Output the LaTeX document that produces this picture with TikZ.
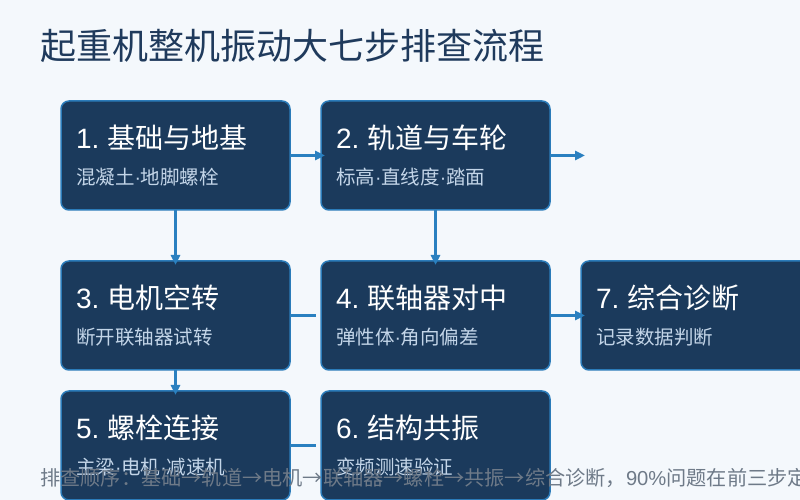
\documentclass[tikz,border=0pt]{standalone}
\usepackage{fontspec}
\setmainfont{Noto Sans CJK SC}
\newfontfamily\latinfont{Liberation Sans}
\usetikzlibrary{positioning, arrows.meta}
\definecolor{pagebg}{HTML}{F4F8FC}
\definecolor{headink}{HTML}{1F3A5C}
\definecolor{boxfill}{HTML}{1B3A5C}
\definecolor{boxedge}{HTML}{2B7BB9}
\definecolor{flowline}{HTML}{2A80C0}
\definecolor{noteink}{HTML}{C3D5E8}
\definecolor{footink}{HTML}{6E7A88}
\newcommand{\steptitle}[2]{{\fontsize{28}{30}\selectfont\color{white}{\latinfont #1}\hspace{8pt}#2}}
\newcommand{\stepnote}[1]{{\fontsize{19.5}{22}\selectfont\color{noteink} #1}}
\newcommand{\mdot}{{\latinfont ·}}
\newcommand{\colgap}{31pt}
\newcommand{\rowgap}{51pt}
\newcommand{\lowgap}{21pt}

\begin{document}
\begin{tikzpicture}[
    x=1pt, y=1pt,
    stepbox/.style={
        rectangle,
        draw=boxedge,
        fill=boxfill,
        line width=1.5pt,
        rounded corners=8pt,
        align=left,
        text width=199pt,
        minimum width=229pt,
        minimum height=109pt,
        inner xsep=15pt,
        inner ysep=0pt,
        outer sep=0pt
    },
    flow/.style={
        line width=2.5pt,
        draw=flowline,
        -{Triangle[length=10pt,width=9pt]},
        shorten >=-4pt
    },
    link/.style={
        line width=2.5pt,
        draw=flowline
    }
]

    % --- page and heading ---
    \fill[pagebg] (0,0) rectangle (800,500);
    \useasboundingbox (0,0) rectangle (800,500);
    \node[anchor=base west, inner sep=0pt, text=headink, font=\fontsize{36}{40}\selectfont] (heading) at (40,440) {起重机整机振动大七步排查流程};

    % --- row 1 ---
    \node[stepbox, anchor=north west] (base) at (61,399) {%
        \steptitle{1.}{基础与地基}\\[16pt]
        \stepnote{混凝土\mdot 地脚螺栓}
    };
    \node[stepbox, right=\colgap of base] (track) {%
        \steptitle{2.}{轨道与车轮}\\[16pt]
        \stepnote{标高\mdot 直线度\mdot 踏面}
    };

    % --- row 2 ---
    \node[stepbox, below=\rowgap of base] (motor) {%
        \steptitle{3.}{电机空转}\\[16pt]
        \stepnote{断开联轴器试转}
    };
    \node[stepbox, right=\colgap of motor] (coupling) {%
        \steptitle{4.}{联轴器对中}\\[16pt]
        \stepnote{弹性体\mdot 角向偏差}
    };
    \node[stepbox, right=\colgap of coupling] (verdict) {%
        \steptitle{7.}{综合诊断}\\[16pt]
        \stepnote{记录数据判断}
    };

    % --- row 3 ---
    \node[stepbox, below=\lowgap of motor] (bolts) {%
        \steptitle{5.}{螺栓连接}\\[16pt]
        \stepnote{主梁\mdot 电机\mdot 减速机}
    };
    \node[stepbox, right=\colgap of bolts] (resonance) {%
        \steptitle{6.}{结构共振}\\[16pt]
        \stepnote{变频测速验证}
    };

    % --- connectors ---
    \coordinate[right=31pt of track.east] (trackout);
    \draw[flow] (base) -- (track);
    \draw[flow] (track) -- (trackout);
    \draw[flow] (base) -- (motor);
    \draw[flow] (track) -- (coupling);
    \draw[link] (motor) -- ([xshift=-5pt]coupling.west);
    \draw[flow] (coupling) -- (verdict);
    \draw[flow] (motor) -- (bolts);
    \draw[link] (bolts) -- ([xshift=-5pt]resonance.west);

    % --- footer ---
    \node[anchor=base west, inner sep=0pt, text=footink, font=\fontsize{20.2}{24}\selectfont] (footer) at (40,14) {排查顺序：基础→轨道→电机→联轴器→螺栓→共振→综合诊断，{\latinfont 90\%}问题在前三步定位};

\end{tikzpicture}
\end{document}
